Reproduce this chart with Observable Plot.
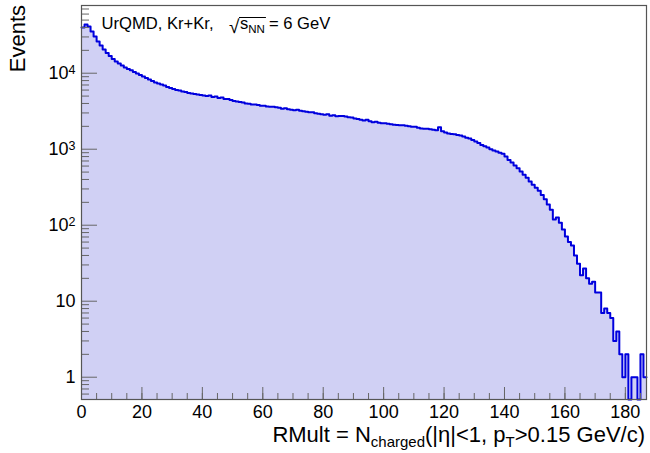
<!DOCTYPE html>
<html><head><meta charset="utf-8">
<script src="https://cdn.jsdelivr.net/npm/d3@7"></script>
<script src="https://cdn.jsdelivr.net/npm/@observablehq/plot@0.6"></script>
<style>
body{margin:0;background:#fff;}
#chart{position:relative;width:650px;height:453px;}
svg{font-family:"Liberation Sans",Arial,Helvetica,sans-serif;}
</style>
</head><body><div id="chart"></div>
<script>
// Histogram: RMult, bin width 1, bins 0..186 (counts per bin)
const binStart = 0;
const binWidth = 1;
const counts = [
39900,43700,41100,35400,30400,26100,23100,20500,18400,16800,
15400,14300,13400,12600,11900,11400,10900,10400,9910,9470,
9050,8650,8260,7890,7540,7320,7100,6890,6580,6380,
6190,6010,5920,5740,5660,5490,5410,5320,5250,5170,
5090,5010,5090,4860,4930,4730,4800,4590,4590,4450,
4320,4260,4190,4130,4010,3950,3890,3890,3830,3720,
3720,3660,3610,3610,3560,3500,3400,3450,3350,3300,
3250,3300,3200,3150,3100,3060,3060,2970,2920,2880,
2840,2880,2760,2800,2720,2740,2740,2690,2640,2610,
2530,2490,2450,2380,2450,2340,2270,2300,2230,2200,
2200,2160,2130,2100,2080,2060,2060,2030,2000,1970,
1970,1910,1880,1860,1860,1830,1800,1770,1950,1720,
1660,1610,1590,1570,1540,1520,1470,1420,1380,1320,
1260,1210,1140,1090,1050,1000,960,930,900,870,
800,720,670,610,560,510,460,420,375,340,
310,285,250,220,187,160,119,126,108,88,
71,60,54,40,31,22,27,20,17,18,
13,13,7,8,7,6,3,4,2,1,
2,0,1,1,0,2,1
];
const xDomain = [0, 187];
const yDomain = [0.509, 77800];
const xMajorTicks = [0,20,40,60,80,100,120,140,160,180];
const xMinorTicks = [0,5,10,15,20,25,30,35,40,45,50,55,60,65,70,75,80,85,90,95,100,105,110,115,120,125,130,135,140,145,150,155,160,165,170,175,180,185];
const yMajorTicks = [1,10,100,1000,10000];
const yMinorTicks = [0.6,0.7,0.8,0.9,2,3,4,5,6,7,8,9,20,30,40,50,60,70,80,90,200,300,400,500,600,700,800,900,2000,3000,4000,5000,6000,7000,8000,9000,20000,30000,40000,50000,60000,70000];
const yTitle = "Events";
const annotation = {left: "UrQMD, Kr+Kr,", sqrtArg: "s", sqrtSub: "NN", right: "= 6 GeV"};

// layout
const W = 650, H = 453, mL = 81, mR = 4, mT = 5, mB = 54;
const pw = W - mL - mR, ph = H - mT - mB;
const font = '"Liberation Sans", Arial, Helvetica, sans-serif';
const tickColor = "#666";

const rows = counts.map((c, i) => ({x: binStart + i * binWidth, y: Math.max(c, yDomain[0])}));
rows.push({x: binStart + counts.length * binWidth, y: rows[rows.length - 1].y});

const supFmt = d => d >= 100 ? "10^" + Math.round(Math.log10(d)) : String(d);

const plot = Plot.plot({
  width: W, height: H,
  marginLeft: mL, marginRight: mR, marginTop: mT, marginBottom: mB,
  style: {fontFamily: font, background: "white", overflow: "visible"},
  x: {domain: xDomain, label: null},
  y: {type: "log", domain: yDomain, label: null},
  marks: [
    Plot.areaY(rows, {x: "x", y1: yDomain[0], y2: "y", curve: "step-after", fill: "#d0d0f4"}),
    Plot.line(rows, {x: "x", y: "y", curve: "step-after", stroke: "#0000dd", strokeWidth: 2}),
    Plot.tickY(yMinorTicks, {y: d => d, stroke: tickColor, insetRight: pw - 8}),
    Plot.tickY(yMajorTicks, {y: d => d, stroke: tickColor, insetRight: pw - 16}),
    Plot.tickX(xMinorTicks, {x: d => d, stroke: tickColor, insetTop: ph - 6}),
    Plot.tickX(xMajorTicks, {x: d => d, stroke: tickColor, insetTop: ph - 12}),
    Plot.axisX({ticks: xMajorTicks, tickSize: 0, tickPadding: 6, fontSize: 18, tickFormat: d => String(d), label: null, fill: "black"}),
    Plot.axisY({ticks: yMajorTicks, tickSize: 0, tickPadding: 6, fontSize: 18, tickFormat: supFmt, label: null, fill: "black"}),
    Plot.frame({stroke: "#555", strokeWidth: 1.2})
  ]
});
document.getElementById("chart").appendChild(plot);

const svg = d3.select(plot);
// superscripts on y tick labels
svg.selectAll('g[aria-label="y-axis tick label"] text').each(function () {
  const t = this.textContent;
  if (t.includes("^")) {
    const [b, e] = t.split("^");
    this.textContent = "";
    const s = d3.select(this);
    s.append("tspan").text(b);
    s.append("tspan").attr("dy", "-0.42em").attr("font-size", "12.5px").text(e);
  }
});

// y title
svg.append("text")
  .attr("transform", `translate(25,${mT}) rotate(-90)`)
  .attr("text-anchor", "end")
  .attr("font-size", 22).attr("font-family", font).attr("fill", "black")
  .text(yTitle);

// x title
const xt = svg.append("text")
  .attr("x", 645).attr("y", 442)
  .attr("text-anchor", "end")
  .attr("font-size", 22).attr("font-family", font).attr("fill", "black");
xt.append("tspan").text("RMult = N");
xt.append("tspan").attr("font-size", 15).attr("dy", 5).text("charged");
xt.append("tspan").attr("dy", -5).text("(|η|<1, p");
xt.append("tspan").attr("font-size", 15).attr("dy", 5).text("T");
xt.append("tspan").attr("dy", -5).text(">0.15 GeV/c)");

// annotation
const aSize = 16.6;
svg.append("text").attr("x", 101.5).attr("y", 29)
  .attr("text-anchor", "start")
  .attr("font-size", aSize).attr("font-family", font).attr("fill", "black")
  .text(annotation.left);
const sq = svg.append("text").attr("x", 229).attr("y", 32.5)
  .attr("text-anchor", "start")
  .attr("font-size", 19).attr("font-family", font).attr("fill", "black")
  .text("√");
const sqBox = sq.node().getBBox();
const sArg = svg.append("text").attr("x", sqBox.x + sqBox.width).attr("y", 29)
  .attr("text-anchor", "start")
  .attr("font-size", aSize).attr("font-family", font).attr("fill", "black");
sArg.append("tspan").text(annotation.sqrtArg);
sArg.append("tspan").attr("font-size", 11.5).attr("dy", 4).text(annotation.sqrtSub);
const argBox = sArg.node().getBBox();
svg.append("line")
  .attr("x1", sqBox.x + sqBox.width - 1).attr("x2", argBox.x + argBox.width + 1)
  .attr("y1", sqBox.y + 2).attr("y2", sqBox.y + 2)
  .attr("stroke", "black").attr("stroke-width", 1);
svg.append("text").attr("x", argBox.x + argBox.width + 4).attr("y", 29)
  .attr("text-anchor", "start")
  .attr("font-size", aSize).attr("font-family", font).attr("fill", "black")
  .text(annotation.right);
</script>
</body></html>
